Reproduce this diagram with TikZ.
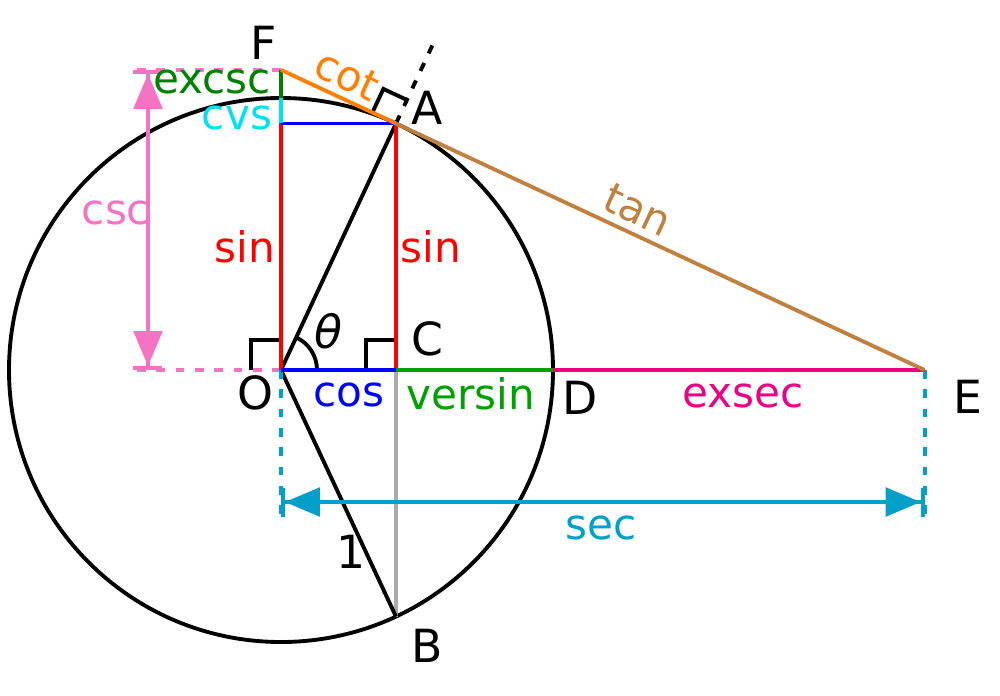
\documentclass[tikz,border=0pt]{standalone}
\usepackage{fontspec}
\setmainfont{DejaVu Sans}
\usetikzlibrary{arrows.meta,calc}
\definecolor{sincol}{RGB}{255,0,0}
\definecolor{coscol}{RGB}{0,0,255}
\definecolor{tancol}{RGB}{191,128,64}
\definecolor{cotcol}{RGB}{255,128,0}
\definecolor{seccol}{RGB}{0,160,200}
\definecolor{csccol}{RGB}{245,115,195}
\definecolor{versincol}{RGB}{0,160,0}
\definecolor{excsccol}{RGB}{0,128,0}
\definecolor{cvscol}{RGB}{0,225,240}
\definecolor{exseccol}{RGB}{235,0,130}
\begin{document}
\begin{tikzpicture}[line width=2.2pt,
		ptlabel/.style={font=\fontsize{26}{30}\selectfont},
		fnlabel/.style={font=\fontsize{24}{28}\selectfont},
		guide/.style={dash pattern=on 5pt off 6pt},
		dimarrow/.style={{Bar[width=0.58cm]Triangle[length=0.7cm,width=0.57cm]}-{Triangle[length=0.7cm,width=0.57cm]Bar[width=0.58cm]}}]
			\useasboundingbox (-5.62,-6.50) rectangle (14.38,7.40);
			
			\coordinate (O) at (0,0);
			\coordinate (A) at (65:5.44);
			\coordinate (B) at (-65:5.44);
			\coordinate (C) at (A |- O);
			\coordinate (D) at (5.44,0);
			\coordinate (E) at (12.872,0);
			\coordinate (F) at (0,6.002);
			\coordinate (T) at (0,5.44);
			\coordinate (S) at (O |- A);
			\coordinate (Aout) at (65:7.24);
			\coordinate (cscbot) at (-2.66,0);
			\coordinate (csctop) at (-2.66,6.002);
			\coordinate (cscbotend) at (-2.95,0);
			\coordinate (csctopend) at (-2.95,6.002);
			\coordinate (secleft) at (0,-2.64);
			\coordinate (secright) at (12.872,-2.64);
			\coordinate (secleftend) at (0,-2.94);
			\coordinate (secrightend) at (12.872,-2.94);
			
			\draw (O) circle (5.44);
			\draw[color=black!33] (C) -- (B);
			\draw (B) -- (O) -- (A);
			\draw[guide] (A) -- (Aout);
			\draw (O) ++(0.72,0) arc[start angle=0,end angle=65,radius=0.72];
			\draw (O) ++(-0.6,0) -- ++(0,0.6) -- ++(0.6,0);
			\draw (C) ++(-0.6,0) -- ++(0,0.6) -- ++(0.6,0);
			\draw (A) ++(155:0.52) -- ++(65:0.52) -- ++(-25:0.52);
			
			\draw[guide, csccol] (F) -- (csctopend);
			\draw[guide, csccol] (O) -- (cscbotend);
			\draw[dimarrow, csccol] (cscbot) -- (csctop);
			\draw[guide, seccol] (O) -- (secleftend);
			\draw[guide, seccol] (E) -- (secrightend);
			\draw[dimarrow, seccol] (secleft) -- (secright);
			
			\draw[sincol] (O) -- (S);
			\draw[sincol] (C) -- (A);
			\draw[coscol] (S) -- (A);
			\draw[coscol] (O) -- (C);
			\draw[versincol] (C) -- (D);
			\draw[exseccol] (D) -- (E);
			\draw[cvscol] (S) -- (T);
			\draw[excsccol] (T) -- (F);
			\draw[cotcol] (F) -- (A);
			\draw[tancol] (A) -- (E);
			
			\node[ptlabel] (labF) at (-0.34,6.54) {F};
			\node[ptlabel] (labA) at (2.92,5.24) {A};
			\node[ptlabel] (labO) at (-0.52,-0.46) {O};
			\node[ptlabel] (labC) at (2.92,0.62) {C};
			\node[ptlabel] (labD) at (5.98,-0.56) {D};
			\node[ptlabel] (labE) at (13.74,-0.54) {E};
			\node[ptlabel] (labB) at (2.92,-5.52) {B};
			\node[ptlabel] (labone) at (1.40,-3.64) {1};
			\node[ptlabel] (labtheta) at (0.94,0.78) {\itshape θ};
			
			\node[fnlabel, sincol] (labsinl) at (-0.72,2.46) {sin};
			\node[fnlabel, sincol] (labsinr) at (3.00,2.46) {sin};
			\node[fnlabel, coscol] (labcos) at (1.36,-0.50) {cos};
			\node[fnlabel, versincol] (labversin) at (3.80,-0.48) {versin};
			\node[fnlabel, exseccol] (labexsec) at (9.24,-0.52) {exsec};
			\node[fnlabel, seccol] (labsec) at (6.40,-3.16) {sec};
			\node[fnlabel, csccol] (labcsc) at (-3.30,3.14) {csc};
			\node[fnlabel, excsccol] (labexcsc) at (-1.38,5.76) {excsc};
			\node[fnlabel, cvscol] (labcvs) at (-0.88,5.04) {cvs};
			\node[fnlabel, cotcol, rotate=-25] (labcot) at (1.32,5.90) {cot};
			\node[fnlabel, tancol, rotate=-25] (labtan) at (7.14,3.20) {tan};
			
		\end{tikzpicture}
\end{document}
